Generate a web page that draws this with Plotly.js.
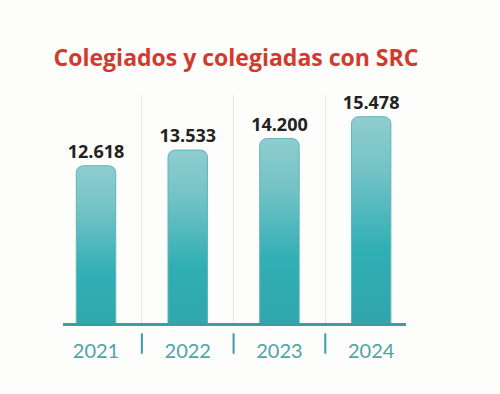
<!DOCTYPE html>
<html>
<head>
<meta charset="utf-8">
<script src="https://cdn.plot.ly/plotly-3.0.1.min.js"></script>
<style>
html,body{margin:0;padding:0;background:#fdfdfb;}
#chart{width:500px;height:394px;}
</style>
</head>
<body>
<div id="chart"></div>
<script>
const years = ["2021", "2022", "2023", "2024"];
const members = [12618, 13533, 14200, 15478];
const titleText = "Colegiados y colegiadas con SRC";

const teal = "#3a9ea4";

const trace = {
  type: "bar",
  x: years,
  y: members,
  width: 0.43,
  marker: {
    color: "#2eaab0",
    cornerradius: 7,
    line: {color: "#5fb4b8", width: 1}
  },
  texttemplate: "%{y:,d}",
  textposition: "outside",
  constraintext: "none",
  textfont: {family: "'Open Sans', sans-serif", size: 18, color: "#222222", weight: 700},
  cliponaxis: false,
  hoverinfo: "skip"
};

const separators = years.slice(0, -1).map((_, i) => ({
  type: "line", xref: "x", yref: "paper",
  x0: i + 0.5, x1: i + 0.5, y0: -0.045, y1: -0.135,
  line: {color: teal, width: 2}
}));

const layout = {
  width: 500, height: 394,
  paper_bgcolor: "#fdfdfb",
  plot_bgcolor: "#fdfdfb",
  separators: ",.",
  margin: {l: 63, r: 94, t: 95, b: 71},
  showlegend: false,
  title: {
    text: "<b>" + titleText + "</b>",
    font: {family: "'Open Sans', sans-serif", size: 23, color: "#d13b2e"},
    xref: "container", yref: "container",
    x: 0.472, xanchor: "center",
    y: 1 - 58 / 394, yanchor: "middle"
  },
  xaxis: {
    type: "category",
    range: [-0.36, 3.38],
    tickson: "boundaries",
    showgrid: true,
    gridcolor: "#e6e6e6",
    gridwidth: 1,
    showline: true,
    linecolor: teal,
    linewidth: 2.5,
    ticks: "",
    ticklabelstandoff: 8,
    tickfont: {family: "Lato, sans-serif", size: 20, color: "#4fa3a8", weight: 400},
    zeroline: false,
    fixedrange: true
  },
  yaxis: {
    range: [3450, 16743],
    visible: false,
    showgrid: false,
    zeroline: false,
    fixedrange: true
  },
  shapes: separators
};

Plotly.newPlot("chart", [trace], layout, {displayModeBar: false, staticPlot: true}).then(gd => {
  const svg = gd.querySelector(".main-svg");
  const ns = "http://www.w3.org/2000/svg";
  let defs = svg.querySelector("defs");
  if (!defs) { defs = document.createElementNS(ns, "defs"); svg.insertBefore(defs, svg.firstChild); }
  const grad = document.createElementNS(ns, "linearGradient");
  grad.setAttribute("id", "barGrad");
  grad.setAttribute("x1", "0"); grad.setAttribute("y1", "0");
  grad.setAttribute("x2", "0"); grad.setAttribute("y2", "1");
  [["0", "#8fcdcf"], ["0.2", "#74c3c6"], ["0.5", "#30afb4"], ["1", "#309ea4"]].forEach(([o, c]) => {
    const s = document.createElementNS(ns, "stop");
    s.setAttribute("offset", o); s.setAttribute("stop-color", c);
    grad.appendChild(s);
  });
  defs.appendChild(grad);
  gd.querySelectorAll(".bars .point path").forEach(p => { p.style.fill = "url(#barGrad)"; });
});
</script>
</body>
</html>
